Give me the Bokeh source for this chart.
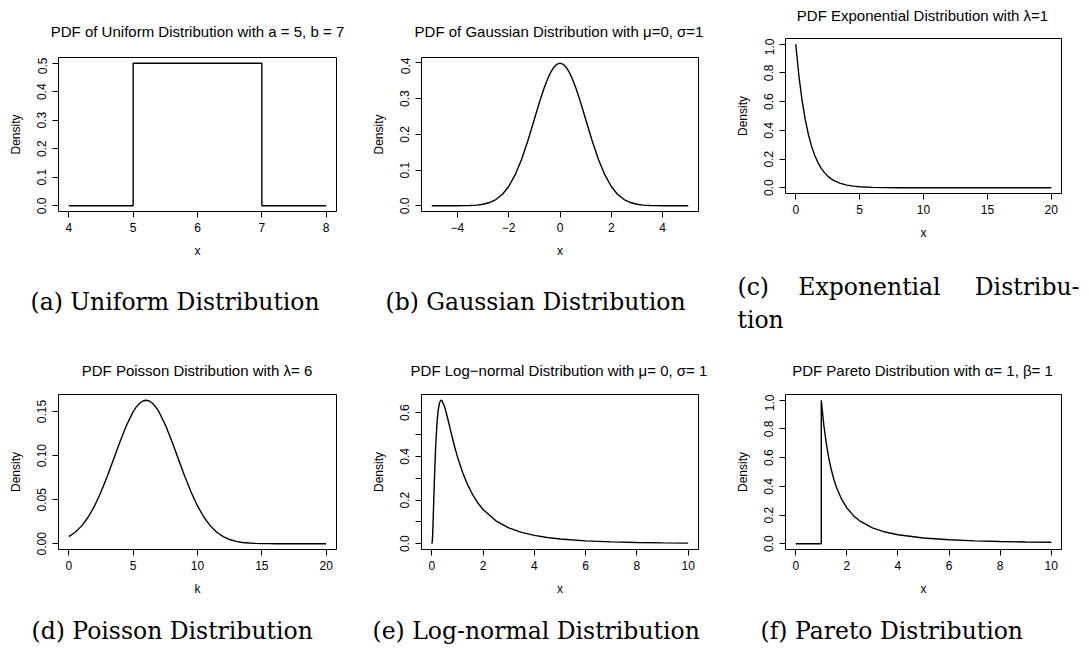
from bokeh.plotting import figure
from bokeh.layouts import column, row
from bokeh.models import Range1d, FixedTicker, PrintfTickFormatter
from bokeh.core.properties import value
from bokeh.embed import file_html
from bokeh.resources import INLINE

# ---------------- data ----------------
unif_x = [4, 5, 5, 7, 7, 8]
unif_y = [0.0, 0.0, 0.5, 0.5, 0.0, 0.0]

gauss_x = [-5.0, -4.75, -4.5, -4.25, -4.0, -3.75, -3.5, -3.25, -3.0, -2.75, -2.5, -2.25,
           -2.0, -1.75, -1.5, -1.25, -1.0, -0.875, -0.75, -0.625, -0.5, -0.375, -0.25, -0.125,
           0.0, 0.125, 0.25, 0.375, 0.5, 0.625, 0.75, 0.875,
           1.0, 1.25, 1.5, 1.75, 2.0, 2.25, 2.5, 2.75, 3.0, 3.25, 3.5, 3.75, 4.0,
           4.25, 4.5, 4.75, 5.0]
gauss_y = [0.0, 0.0, 0.0, 0.0, 0.0001, 0.0004, 0.0009, 0.0020, 0.0044, 0.0091, 0.0175, 0.0317,
           0.0540, 0.0863, 0.1295, 0.1826, 0.2420, 0.2721, 0.3011, 0.3281, 0.3521, 0.3719, 0.3867, 0.3958,
           0.3989, 0.3958, 0.3867, 0.3719, 0.3521, 0.3281, 0.3011, 0.2721,
           0.2420, 0.1826, 0.1295, 0.0863, 0.0540, 0.0317, 0.0175, 0.0091, 0.0044, 0.0020, 0.0009, 0.0004, 0.0001,
           0.0, 0.0, 0.0, 0.0]

expo_x = [0, 0.25, 0.5, 0.75, 1.0, 1.25, 1.5, 1.75, 2.0, 2.25, 2.5, 2.75, 3.0, 3.5, 4.0, 4.5,
          5.0, 6.0, 7.0, 8.0, 10.0, 12.0, 15.0, 20.0]
expo_y = [1.0, 0.7788, 0.6065, 0.4724, 0.3679, 0.2865, 0.2231, 0.1738, 0.1353, 0.1054, 0.0821,
          0.0639, 0.0498, 0.0302, 0.0183, 0.0111, 0.0067, 0.0025, 0.0009, 0.0003, 0.0, 0.0, 0.0, 0.0]

pois_k = [0, 0.5, 1, 1.5, 2, 2.5, 3, 3.5, 4, 4.5, 5, 5.25, 5.5, 5.75, 6, 6.25, 6.5, 6.75, 7, 7.5,
          8, 8.5, 9, 9.5, 10, 10.5, 11, 11.5, 12, 12.5, 13, 13.5, 14, 14.5, 15, 15.5, 16, 17, 18, 19, 20]
pois_y = [0.0081, 0.0131, 0.0203, 0.0301, 0.0429, 0.0587, 0.0769, 0.0968, 0.1167, 0.1350, 0.1499,
          0.1554, 0.1595, 0.1620, 0.1629, 0.1620, 0.1595, 0.1554, 0.1499, 0.1350,
          0.1167, 0.0968, 0.0769, 0.0587, 0.0429, 0.0301, 0.0203, 0.0131, 0.0081, 0.0048, 0.0027,
          0.0015, 0.0008, 0.0004, 0.0002, 0.0001, 0.0, 0.0, 0.0, 0.0, 0.0]

lnorm_x = [0, 0.02, 0.03, 0.05, 0.1, 0.15, 0.2, 0.25, 0.3, 0.35, 0.4, 0.5, 0.6, 0.7, 0.8, 0.9,
           1.0, 1.2, 1.4, 1.6, 1.8, 2.0, 2.5, 3.0, 3.5, 4.0, 4.5, 5.0, 6.0, 7.0, 8.0, 9.0, 10.0]
lnorm_y = [0.0, 0.0095, 0.0284, 0.0898, 0.2816, 0.4398, 0.5463, 0.6105, 0.6442, 0.6569, 0.6554,
           0.6275, 0.5836, 0.5348, 0.4864, 0.4408, 0.3989, 0.3270, 0.2693, 0.2233, 0.1865, 0.1569,
           0.1049, 0.0727, 0.0520, 0.0382, 0.0286, 0.0219, 0.0134, 0.0086, 0.0057, 0.0040, 0.0028]

pareto_x = [0, 0.5, 1.0, 1.0, 1.1, 1.2, 1.3, 1.4, 1.5, 1.6, 1.8, 2.0, 2.25, 2.5, 3.0, 3.5, 4.0,
            5.0, 6.0, 7.0, 8.0, 9.0, 10.0]
pareto_y = [0.0, 0.0, 0.0, 1.0, 0.8264, 0.6944, 0.5917, 0.5102, 0.4444, 0.3906, 0.3086, 0.25,
            0.1975, 0.16, 0.1111, 0.0816, 0.0625, 0.04, 0.0278, 0.0204, 0.0156, 0.0123, 0.01]

titles = ["PDF of Uniform Distribution with a = 5, b = 7",
          "PDF of Gaussian Distribution with \u03bc=0, \u03c3=1",
          "PDF Exponential Distribution with \u03bb=1",
          "PDF Poisson Distribution with \u03bb= 6",
          "PDF Log\u2212normal Distribution with \u03bc= 0, \u03c3= 1",
          "PDF Pareto Distribution with \u03b1= 1, \u03b2= 1"]
xlabels = ["x", "x", "x", "k", "x", "x"]

unif_xticks = [4, 5, 6, 7, 8]
gauss_xticks = [-4, -2, 0, 2, 4]
expo_xticks = [0, 5, 10, 15, 20]
pois_xticks = [0, 5, 10, 15, 20]
lnorm_xticks = [0, 2, 4, 6, 8, 10]
pareto_xticks = [0, 2, 4, 6, 8, 10]

unif_yticks = [0.0, 0.1, 0.2, 0.3, 0.4, 0.5]
gauss_yticks = [0.0, 0.1, 0.2, 0.3, 0.4]
expo_yticks = [0.0, 0.2, 0.4, 0.6, 0.8, 1.0]
pois_yticks = [0.0, 0.05, 0.10, 0.15]
lnorm_yticks = [0.0, 0.2, 0.4, 0.6]
lnorm_yminor = [0.1, 0.3, 0.5]
pareto_yticks = [0.0, 0.2, 0.4, 0.6, 0.8, 1.0]

caption_a = "(a) Uniform Distribution"
caption_b = "(b) Gaussian Distribution"
caption_c = ["(c)", "Exponential", "Distribu-", "tion"]
caption_d = "(d) Poisson Distribution"
caption_e = "(e) Log-normal Distribution"
caption_f = "(f) Pareto Distribution"

SANS = "Liberation Sans"
SERIF = "DejaVu Serif"
TITLE_SIZE = "15px"
TICK_SIZE = "12px"
LAB_SIZE = "12px"
CAP_SIZE = "23.5px"


def make_plot(xs, ys, xlab, xticks, yticks, yfmt, fw, fh, left, right, bottom,
              yminor=None, xover=None):
    x0, x1 = min(xs), max(xs)
    y0, y1 = min(ys), max(ys)
    px, py = 0.04 * (x1 - x0), 0.04 * (y1 - y0)
    p = figure(frame_width=fw, frame_height=fh,
               min_border_left=left, min_border_right=right,
               min_border_top=0, min_border_bottom=bottom,
               x_range=Range1d(x0 - px, x1 + px), y_range=Range1d(y0 - py, y1 + py),
               output_backend="svg", toolbar_location=None, title_location=None)
    p.line(xs, ys, line_color="black", line_width=1.4)
    p.xgrid.visible = False
    p.ygrid.visible = False
    p.outline_line_color = "black"
    p.outline_line_width = 1
    p.background_fill_color = "white"
    p.border_fill_color = "white"

    xa = p.xaxis[0]
    xa.ticker = FixedTicker(ticks=xticks)
    xa.bounds = (xticks[0], xticks[-1])
    if xover:
        xa.major_label_overrides = xover
    ya = p.yaxis[0]
    ya.ticker = FixedTicker(ticks=yticks, minor_ticks=yminor or [])
    ya.bounds = (yticks[0], max(yticks + (yminor or [])))
    ya.formatter = PrintfTickFormatter(format=yfmt)
    ya.major_label_orientation = "vertical"
    ya.axis_label = "Density"
    xa.axis_label = xlab
    for ax in (xa, ya):
        minor_on = ax is ya and bool(yminor)
        ax.axis_line_color = "black"
        ax.axis_line_width = 1
        ax.major_tick_line_color = "black"
        ax.major_tick_out = 6
        ax.major_tick_in = 0
        ax.minor_tick_out = 6 if minor_on else 0
        ax.minor_tick_in = 0
        ax.minor_tick_line_color = "black" if minor_on else None
        ax.major_label_text_font = SANS
        ax.major_label_text_font_size = TICK_SIZE
        ax.major_label_text_color = "black"
        ax.axis_label_text_font = SANS
        ax.axis_label_text_font_size = LAB_SIZE
        ax.axis_label_text_font_style = "normal"
        ax.axis_label_text_color = "black"
    xa.major_label_standoff = 5
    xa.axis_label_standoff = 9
    ya.major_label_standoff = 6
    ya.axis_label_standoff = 12
    return p


def band(x0, x1, y0, y1):
    # a blank strip whose data coordinates equal page pixels
    c = figure(width=x1 - x0, height=y1 - y0,
               x_range=Range1d(x0, x1), y_range=Range1d(y1, y0),
               x_axis_type=None, y_axis_type=None, min_border=0,
               toolbar_location=None, output_backend="svg", title_location=None)
    c.outline_line_color = None
    c.background_fill_color = "white"
    c.border_fill_color = "white"
    return c


def put_title(b, xc, y, txt):
    b.text(x=[xc], y=[y], text=[txt], text_font=value(SANS), text_font_size=value(TITLE_SIZE),
           text_baseline="middle", text_align="center", text_color="black")


def put_caption(b, xs, ys, txts, align="left"):
    b.text(x=xs, y=ys, text=txts, text_font=value(SERIF), text_font_size=value(CAP_SIZE),
           text_baseline="middle", text_align=align, text_color="black")


def stack(*items):
    # wrap each item on its own so that plot frames are not aligned with each other
    return column(*[column(it) for it in items])


minus_over = {-4: "\u22124", -2: "\u22122", 0: "0", 2: "2", 4: "4"}

CAP2_Y = 630

# ---------- column A (x 0..368) ----------
tA = band(0, 368, 0, 57)
put_title(tA, 197, 31, titles[0])
fa = make_plot(unif_x, unif_y, xlabels[0], unif_xticks, unif_yticks, "%.1f",
               278, 154, left=58, right=32, bottom=54)
mA = band(0, 368, 265, 394)
put_caption(mA, [30], [301], [caption_a])
put_title(mA, 196.5, 370, titles[3])
fd = make_plot(pois_k, pois_y, xlabels[3], pois_xticks, pois_yticks, "%.2f",
               278, 155, left=58, right=32, bottom=51)
bA = band(0, 368, 600, 651)
put_caption(bA, [31], [CAP2_Y], [caption_d])
colA = stack(tA, fa, mA, fd, bA)

# ---------- column B (x 368..731) ----------
tB = band(368, 731, 0, 57)
put_title(tB, 558.5, 31, titles[1])
fb = make_plot(gauss_x, gauss_y, xlabels[1], gauss_xticks, gauss_yticks, "%.1f",
               277, 154, left=52, right=34, bottom=54, xover=minus_over)
mB = band(368, 731, 265, 394)
put_caption(mB, [385], [301], [caption_b])
put_title(mB, 558.5, 370, titles[4])
fe = make_plot(lnorm_x, lnorm_y, xlabels[4], lnorm_xticks, lnorm_yticks, "%.1f",
               277, 155, left=52, right=34, bottom=51, yminor=lnorm_yminor)
bB = band(368, 731, 600, 651)
put_caption(bB, [372], [CAP2_Y], [caption_e])
colB = stack(tB, fb, mB, fe, bB)

# ---------- column C (x 731..1081) ----------
tC = band(731, 1081, 0, 38)
put_title(tC, 921, 15, titles[2])
fc = make_plot(expo_x, expo_y, xlabels[2], expo_xticks, expo_yticks, "%.1f",
               276, 155, left=52, right=22, bottom=72)
mC = band(731, 1081, 265, 394)
put_caption(mC, [736], [286], [caption_c[0]])
put_caption(mC, [868], [286], [caption_c[1]], align="center")
put_caption(mC, [1078], [286], [caption_c[2]], align="right")
put_caption(mC, [736], [319], [caption_c[3]])
put_title(mC, 921, 370, titles[5])
ff = make_plot(pareto_x, pareto_y, xlabels[5], pareto_xticks, pareto_yticks, "%.1f",
               276, 155, left=52, right=22, bottom=51)
bC = band(731, 1081, 600, 651)
put_caption(bC, [759], [CAP2_Y], [caption_f])
colC = stack(tC, fc, mC, ff, bC)

layout = row(colA, colB, colC)

open("out.html", "w").write(file_html(layout, INLINE))
